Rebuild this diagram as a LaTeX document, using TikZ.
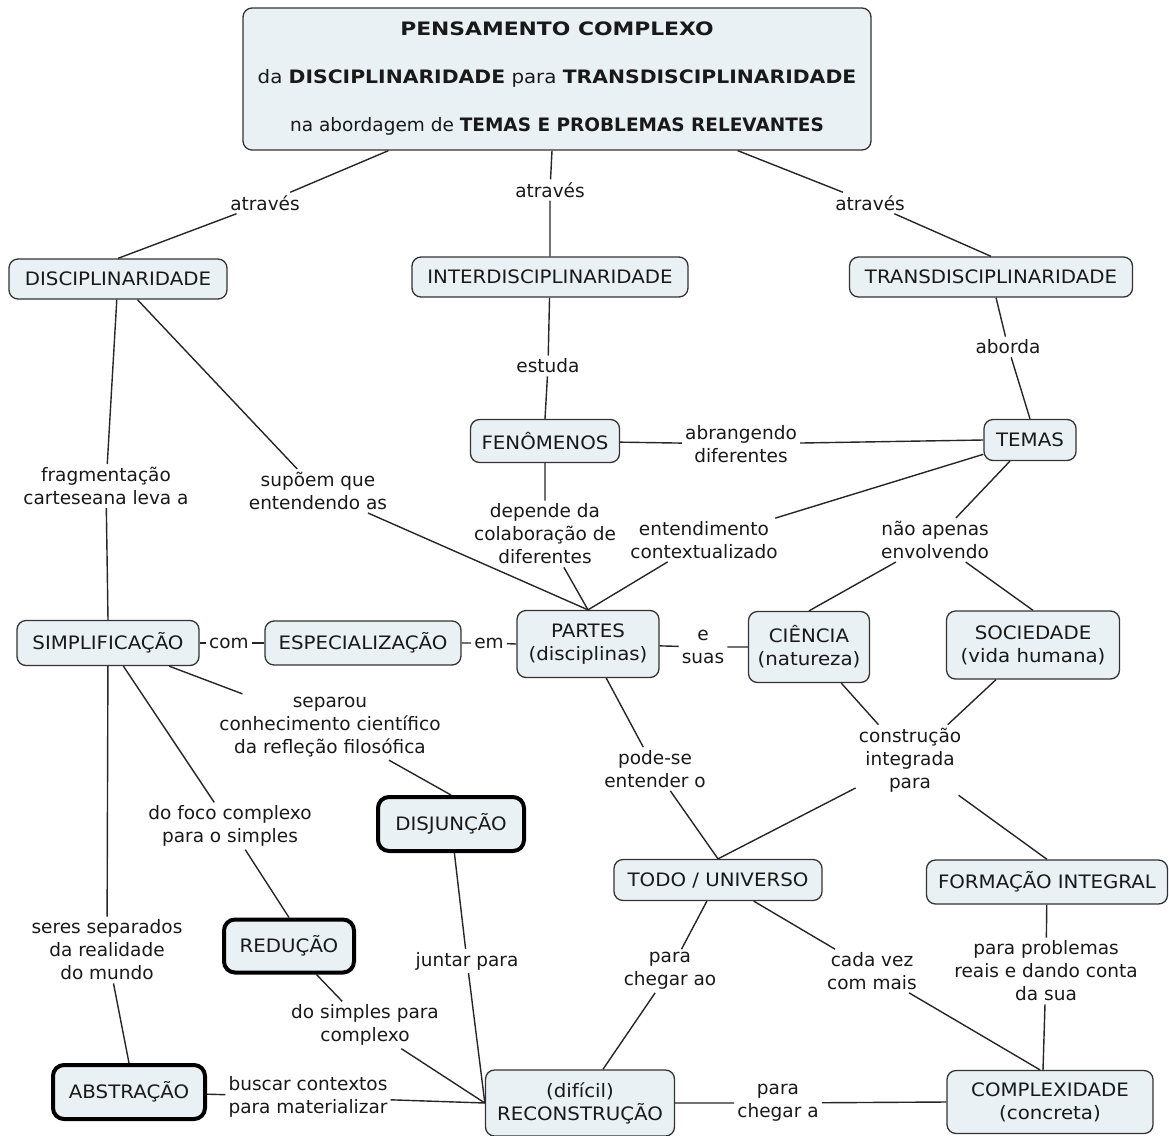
\documentclass[tikz,border=0pt]{standalone}
\usepackage{fontspec}
\setmainfont{DejaVu Sans}
% slightly widened faces for the concept boxes and the heading
\newfontfamily\cfont[FakeStretch=1.07]{DejaVu Sans}
\newfontfamily\bfont[FakeStretch=1.10]{DejaVu Sans}
\newfontfamily\hfont[FakeStretch=1.18]{DejaVu Sans}
\definecolor{cfill}{RGB}{234,241,244}
\definecolor{ink}{RGB}{25,25,25}
\begin{document}
\begin{tikzpicture}[x=1pt,y=-1pt,
  txt/.style={font=\fontsize{18.5}{23}\selectfont, text=ink, align=center},
  concept/.style={txt, font=\cfont\fontsize{18.5}{23}\selectfont,
    draw=black!80, line width=1.3pt, fill=cfill, rounded corners=9pt, inner sep=0pt},
  strong/.style={concept, draw=black, line width=4pt, rounded corners=11pt},
  phrase/.style={txt, inner sep=3pt},
  link/.style={draw=black!85, line width=1.4pt}]
\useasboundingbox (0,0) rectangle (1169,1135);

% concepts
\node[concept, minimum width=628pt, minimum height=142pt] (top) at (557,79)
  {{\hfont\bfseries PENSAMENTO COMPLEXO}\\[25pt]
   da {\bfont\bfseries DISCIPLINARIDADE} para {\bfont\bfseries TRANSDISCIPLINARIDADE}\\[25pt]
   {\rmfamily na abordagem de \textbf{TEMAS E PROBLEMAS RELEVANTES}}};
\node[concept, minimum width=218pt, minimum height=40pt] (disc) at (118,279) {DISCIPLINARIDADE};
\node[concept, minimum width=276pt, minimum height=40pt] (inter) at (550,277) {INTERDISCIPLINARIDADE};
\node[concept, minimum width=283pt, minimum height=40pt] (trans) at (991,277) {TRANSDISCIPLINARIDADE};
\node[concept, minimum width=149pt, minimum height=43pt] (fen) at (545,441) {FENÔMENOS};
\node[concept, minimum width=92pt, minimum height=41pt] (temas) at (1030,440) {TEMAS};
\node[concept, minimum width=182pt, minimum height=45pt] (simpl) at (108,643) {SIMPLIFICAÇÃO};
\node[concept, minimum width=196pt, minimum height=44pt] (espec) at (363,643) {ESPECIALIZAÇÃO};
\node[concept, minimum width=142pt, minimum height=67pt] (partes) at (588,644) {PARTES\\(disciplinas)};
\node[concept, minimum width=121pt, minimum height=71pt] (ciencia) at (809,647) {CIÊNCIA\\(natureza)};
\node[concept, minimum width=173pt, minimum height=68pt] (socied) at (1033,645) {SOCIEDADE\\(vida humana)};
\node[strong, minimum width=146pt, minimum height=54pt] (disj) at (451,824) {DISJUNÇÃO};
\node[concept, minimum width=208pt, minimum height=41pt] (todo) at (718,880) {TODO / UNIVERSO};
\node[concept, minimum width=241pt, minimum height=44pt] (form) at (1047,882) {FORMAÇÃO INTEGRAL};
\node[strong, minimum width=130pt, minimum height=53pt] (red) at (289,946) {REDUÇÃO};
\node[strong, minimum width=152pt, minimum height=54pt] (abs) at (129,1092) {ABSTRAÇÃO};
\node[concept, minimum width=189pt, minimum height=66pt] (recon) at (580,1103) {(difícil)\\RECONSTRUÇÃO};
\node[concept, minimum width=206pt, minimum height=63pt] (complex) at (1050,1102) {COMPLEXIDADE\\(concreta)};

% linking phrases
\node[phrase] (at1) at (265,203) {através};
\node[phrase] (at2) at (550,190) {através};
\node[phrase] (at3) at (870,203) {através};
\node[phrase] (estuda) at (548,366) {estuda};
\node[phrase] (aborda) at (1008,347) {aborda};
\node[phrase] (abrang) at (741,444) {abrangendo\\diferentes};
\node[phrase] (frag) at (106,486) {fragmentação\\carteseana leva a};
\node[phrase] (supoem) at (318,491) {supõem que\\entendendo as};
\node[phrase] (depende) at (545,534) {depende da\\colaboração de\\diferentes};
\node[phrase] (entend) at (704,540) {entendimento\\contextualizado};
\node[phrase] (naoap) at (935,540) {não apenas\\envolvendo};
\node[phrase] (com) at (229,643) {com};
\node[phrase] (em) at (489,643) {em};
\node[phrase] (esuas) at (703,647) {e\\suas};
\node[phrase] (separou) at (330,727) {separou\\conhecimento científico\\da refleção filosófica};
\node[phrase] (podese) at (655,769) {pode-se\\entender o};
\node[phrase] (constr) at (910,760) {construção\\integrada\\para};
\node[phrase] (foco) at (230,826) {do foco complexo\\para o simples};
\node[phrase] (seres) at (107,950) {seres separados\\da realidade\\do mundo};
\node[phrase] (juntar) at (467,961) {juntar para};
\node[phrase] (chegarao) at (670,971) {para\\chegar ao};
\node[phrase] (cadavez) at (872,971) {cada vez\\com mais};
\node[phrase] (probl) at (1046,971) {para problemas\\reais e dando conta\\da sua};
\node[phrase] (dosimples) at (365,1025) {do simples para\\complexo};
\node[phrase] (buscar) at (308,1097) {buscar contextos\\para materializar};
\node[phrase] (chegara) at (778,1103) {para\\chegar a};

% connectors
\draw[link] (top) -- (at1) (at1) -- (disc.north);
\draw[link] ([xshift=-5pt]top.south) -- (at2) (at2) -- (inter.north);
\draw[link] (top) -- (at3) (at3) -- (trans.north);
\draw[link] (inter) -- (estuda) (estuda) -- (fen.north);
\draw[link] (trans) -- (aborda) (aborda) -- (temas.north);
\draw[link] (fen) -- (abrang) (abrang) -- (temas.west);
\draw[link] (disc) -- (frag) (frag) -- (simpl.north);
\draw[link] (disc) -- (supoem) (supoem) -- (partes.north);
\draw[link] (fen) -- (depende) (depende) -- (partes.north);
\draw[link] (temas) -- (entend) (entend) -- (partes.north);
\draw[link] (temas) -- (naoap) (naoap) -- (ciencia.north) (naoap) -- (socied.north);
\draw[link] (simpl) -- (com) (com) -- (espec.west);
\draw[link] (espec) -- (em) (em) -- (partes.west);
\draw[link] (partes) -- (esuas) (esuas) -- (ciencia.west);
\draw[link] (simpl) -- (separou) (separou) -- (disj.north);
\draw[link] (simpl) -- (foco) (foco) -- (red.north);
\draw[link] (simpl) -- (seres) (seres) -- (abs.north);
\draw[link] (partes) -- (podese) (podese) -- (todo.north);
\draw[link] (ciencia) -- (constr) (socied) -- (constr);
\draw[link] (constr) -- (todo.north) (constr) -- (form.north);
\draw[link] (disj) -- (juntar) (juntar) -- (recon.west);
\draw[link] (red) -- (dosimples) (dosimples) -- (recon.west);
\draw[link] (abs) -- (buscar) (buscar) -- (recon.west);
\draw[link] (todo) -- (chegarao) (chegarao) -- (recon);
\draw[link] (todo) -- (cadavez) (cadavez) -- ([xshift=-10pt]complex.north);
\draw[link] (form) -- (probl) (probl) -- ([xshift=-7pt]complex.north);
\draw[link] (recon) -- (chegara) (chegara) -- (complex.west);
\end{tikzpicture}
\end{document}
